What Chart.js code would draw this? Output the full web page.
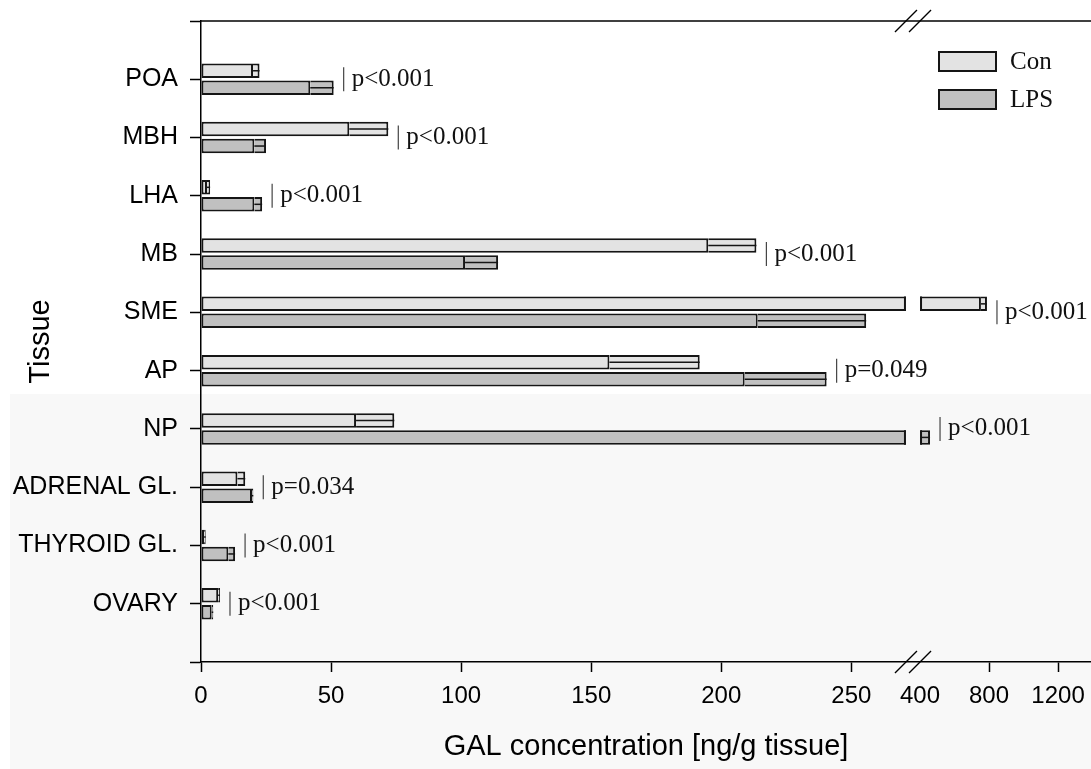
<!DOCTYPE html>
<html>
<head>
<meta charset="utf-8">
<script src="https://cdn.jsdelivr.net/npm/chart.js@4.4.1/dist/chart.umd.min.js"></script>
<style>
html,body{margin:0;padding:0;background:#fff;}
#wrap{width:1091px;height:769px;position:relative;}
canvas{display:block;}
</style>
</head>
<body>
<div id="wrap"><canvas id="c" width="1091" height="769"></canvas></div>
<script>
// ---- data ----
const categories = ['POA','MBH','LHA','MB','SME','AP','NP','ADRENAL GL.','THYROID GL.','OVARY'];
const seriesNames = ['Con','LPS'];
const conMean = [20, 57, 2.3, 195, 753, 157, 59.6, 14, 1.2, 6.6];
const conSem  = [2.5, 15, 1.2, 18.5, 35, 34.7, 14.7, 3, 0.6, 0.7];
const lpsMean = [42, 20.5, 20.5, 101.5, 214, 209, 404, 19.6, 10.5, 4.1];
const lpsSem  = [9, 4.5, 3, 12.7, 41.7, 31.5, 54, 0.5, 2.6, 0.6];
const pLabels = ['p<0.001','p<0.001','p<0.001','p<0.001','p<0.001','p=0.049','p<0.001','p=0.034','p<0.001','p<0.001'];
const xTickValues = [0,50,100,150,200,250,400,800,1200];
const xTitle = 'GAL concentration [ng/g tissue]';
const yTitle = 'Tissue';

// ---- styles ----
const SANS = '"Liberation Sans", Arial, sans-serif';
const SERIF = '"Liberation Serif", "Times New Roman", serif';
const CON_FILL = '#e3e3e3';
const LPS_FILL = '#c0c0c0';
const EDGE = '#151515';
const BW = 2;
const BG_TOP = '#ffffff';
const BG_LOW = '#f8f8f8';
const BG_SPLIT_Y = 394;
const BG_LOW_X = 10;

// ---- broken linear scale ----
class BrokenLinearScale extends Chart.LinearScale {
  buildTicks() {
    return (this.options.tickValues || []).map(v => ({value: v}));
  }
  _frac(v) {
    const b = this.options.brk, min = this.min, max = this.max;
    if (v <= b.from) return (v - min) / (b.from - min) * b.fromFrac;
    if (v >= b.to) return b.toFrac + (v - b.to) / (max - b.to) * (1 - b.toFrac);
    return b.fromFrac + (v - b.from) / (b.to - b.from) * (b.toFrac - b.fromFrac);
  }
  getPixelForValue(v) {
    if (v === null || v === undefined || isNaN(v)) return NaN;
    return this.left + this._frac(v) * this.width;
  }
  getValueForPixel(p) {
    const b = this.options.brk, min = this.min, max = this.max;
    const f = (p - this.left) / this.width;
    if (f <= b.fromFrac) return min + f / b.fromFrac * (b.from - min);
    if (f >= b.toFrac) return b.to + (f - b.toFrac) / (1 - b.toFrac) * (max - b.to);
    return b.from + (f - b.fromFrac) / (b.toFrac - b.fromFrac) * (b.to - b.from);
  }
}
BrokenLinearScale.id = 'brokenLinear';
BrokenLinearScale.defaults = {};
Chart.register(BrokenLinearScale);

const paddedLabels = ['', ...categories, ''];
const pad = arr => [null, ...arr, null];

const decor = {
  id: 'decor',
  beforeDraw(chart) {
    const {ctx, width, height} = chart;
    ctx.save();
    ctx.fillStyle = BG_TOP;
    ctx.fillRect(0, 0, width, height);
    ctx.fillStyle = BG_LOW;
    ctx.fillRect(BG_LOW_X, BG_SPLIT_Y, width - BG_LOW_X, height - BG_SPLIT_Y);
    ctx.restore();
  },
  afterDatasetsDraw(chart) {
    const {ctx, chartArea: ca} = chart;
    const xs = chart.scales.x, ys = chart.scales.y;
    ctx.save();
    // SEM midlines
    chart.data.datasets.forEach((ds, di) => {
      if (ds.role !== 'sem') return;
      chart.getDatasetMeta(di).data.forEach(el => {
        const p = el.getProps(['x','y','base','height'], true);
        if (!isFinite(p.x) || !isFinite(p.base) || p.x - p.base < 0.5) return;
        ctx.strokeStyle = EDGE; ctx.lineWidth = 1.5;
        ctx.beginPath(); ctx.moveTo(p.base, p.y); ctx.lineTo(p.x, p.y); ctx.stroke();
      });
    });
    // axis break gap
    const b = xs.options.brk;
    const gL = xs.getPixelForValue(b.from), gR = xs.getPixelForValue(b.to);
    ctx.fillStyle = BG_TOP;
    ctx.fillRect(gL, ca.top + 1, gR - gL, Math.min(BG_SPLIT_Y, ca.bottom - 1) - (ca.top + 1));
    ctx.fillStyle = BG_LOW;
    ctx.fillRect(gL, BG_SPLIT_Y, gR - gL, ca.bottom - 1 - BG_SPLIT_Y);
    // close bars cut by the gap
    chart.data.datasets.forEach((ds, di) => {
      chart.getDatasetMeta(di).data.forEach(el => {
        const p = el.getProps(['x','y','base','height'], true);
        if (!isFinite(p.x) || !isFinite(p.base)) return;
        const lo = Math.min(p.x, p.base), hi = Math.max(p.x, p.base);
        if (lo < gL && hi > gR) {
          ctx.strokeStyle = EDGE; ctx.lineWidth = BW;
          ctx.beginPath();
          ctx.moveTo(gL - BW/2, p.y - p.height/2); ctx.lineTo(gL - BW/2, p.y + p.height/2);
          ctx.moveTo(gR + BW/2, p.y - p.height/2); ctx.lineTo(gR + BW/2, p.y + p.height/2);
          ctx.stroke();
        }
      });
    });
    // top frame line
    ctx.strokeStyle = '#000'; ctx.lineWidth = 1.5;
    ctx.beginPath(); ctx.moveTo(ca.left, ca.top); ctx.lineTo(ca.right, ca.top); ctx.stroke();
    // break marks
    ctx.lineWidth = 1.3;
    [ca.top, ca.bottom].forEach(yy => {
      [gL, gR].forEach(xx => {
        ctx.beginPath(); ctx.moveTo(xx - 11, yy + 11); ctx.lineTo(xx + 11, yy - 11); ctx.stroke();
      });
    });
    // p-value annotations
    ctx.font = '25px ' + SERIF;
    ctx.textBaseline = 'middle';
    ctx.textAlign = 'left';
    categories.forEach((c, i) => {
      const yPix = ys.getPixelForTick(i + 1);
      const endVal = Math.max(conMean[i] + conSem[i], lpsMean[i] + lpsSem[i]);
      const xLine = xs.getPixelForValue(endVal) + 10;
      ctx.strokeStyle = '#444'; ctx.lineWidth = 1.2;
      ctx.beginPath(); ctx.moveTo(xLine, yPix - 12); ctx.lineTo(xLine, yPix + 12); ctx.stroke();
      ctx.fillStyle = '#111';
      ctx.fillText(pLabels[i], xLine + 8, yPix);
    });
    // legend
    const fills = [CON_FILL, LPS_FILL];
    seriesNames.forEach((name, k) => {
      const bx = ca.right - 152, by = ca.top + 31 + k * 38;
      ctx.fillStyle = fills[k];
      ctx.fillRect(bx, by, 57, 19);
      ctx.strokeStyle = EDGE; ctx.lineWidth = BW;
      ctx.strokeRect(bx, by, 57, 19);
      ctx.fillStyle = '#111';
      ctx.fillText(name, bx + 71, by + 10);
    });
    ctx.restore();
  }
};

const barCommon = {borderColor: EDGE, borderWidth: BW, categoryPercentage: 0.5835, barPercentage: 0.853};

new Chart(document.getElementById('c'), {
  type: 'bar',
  data: {
    labels: paddedLabels,
    datasets: [
      Object.assign({label: seriesNames[0], role: 'mean', stack: 'con', data: pad(conMean), backgroundColor: CON_FILL, borderSkipped: false}, barCommon),
      Object.assign({label: seriesNames[0] + ' SEM', role: 'sem', stack: 'con', data: pad(conSem), backgroundColor: CON_FILL, borderSkipped: 'start'}, barCommon),
      Object.assign({label: seriesNames[1], role: 'mean', stack: 'lps', data: pad(lpsMean), backgroundColor: LPS_FILL, borderSkipped: false}, barCommon),
      Object.assign({label: seriesNames[1] + ' SEM', role: 'sem', stack: 'lps', data: pad(lpsSem), backgroundColor: LPS_FILL, borderSkipped: 'start'}, barCommon)
    ]
  },
  options: {
    indexAxis: 'y',
    responsive: false,
    maintainAspectRatio: false,
    devicePixelRatio: 1,
    animation: false,
    layout: {padding: {top: 21, left: 0, right: 0, bottom: 0}},
    plugins: {legend: {display: false}, tooltip: {enabled: false}},
    scales: {
      x: {
        type: 'brokenLinear', min: 0, max: 1391, stacked: true,
        tickValues: xTickValues,
        brk: {from: 271, to: 400, fromFrac: 0.7921, toFrac: 0.8079},
        border: {display: true, color: '#000', width: 1.5},
        grid: {drawOnChartArea: false, drawTicks: true, tickLength: 10, tickWidth: 1.5,
               tickColor: c => (c.tick && c.tick.value === 400) ? 'rgba(0,0,0,0)' : '#000'},
        ticks: {autoSkip: false, maxRotation: 0, minRotation: 0, padding: 10, color: '#000',
                font: {family: SANS, size: 24}, callback: v => String(v)},
        title: {display: true, text: xTitle, color: '#000', font: {family: SANS, size: 29, lineHeight: 1.2}, padding: {top: 0, bottom: 5}},
        afterFit: s => { s.height = 107; s.paddingLeft = 0; s.paddingRight = 0; }
      },
      y: {
        type: 'category', labels: paddedLabels, offset: false,
        border: {display: true, color: '#000', width: 1.5},
        grid: {drawOnChartArea: false, offset: false, drawTicks: true, tickLength: 11, tickWidth: 1.5, tickColor: '#000'},
        ticks: {autoSkip: false, padding: 12, color: '#000', font: {family: SANS, size: 25}},
        title: {display: true, text: yTitle, color: '#000', font: {family: SANS, size: 29, lineHeight: 1.2}, padding: {top: 24, bottom: 0}},
        afterFit: s => { s.width = 201; s.paddingTop = 0; s.paddingBottom = 0; }
      }
    }
  },
  plugins: [decor]
});
</script>
</body>
</html>
